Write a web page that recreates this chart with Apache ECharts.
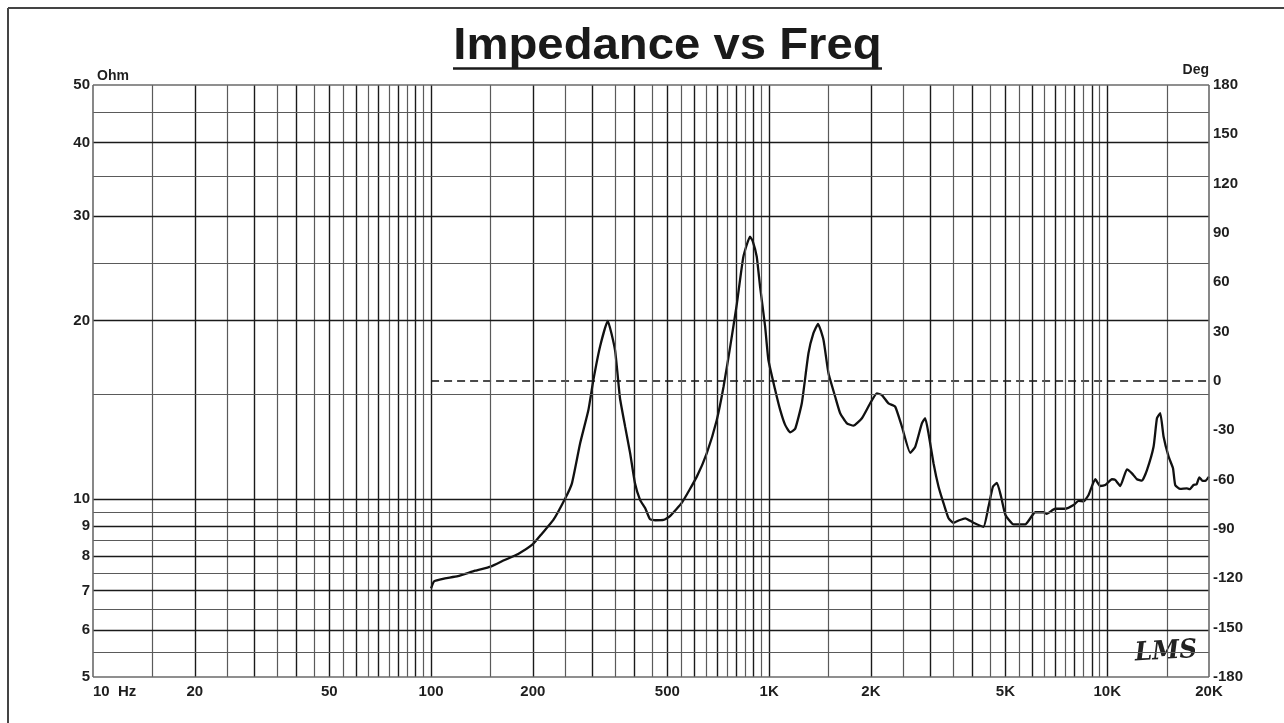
<!DOCTYPE html>
<html><head><meta charset="utf-8">
<script src="https://cdn.jsdelivr.net/npm/echarts@6/dist/echarts.min.js"></script>
<style>html,body{margin:0;padding:0;background:#fff}#c{width:1284px;height:723px}</style>
</head><body><div id="c"></div>
<script>
// ---- data ----
const freqHz = [100,102,106,110,120,135,150,165,181,200,213,230,249,261,276,292,302,316,333,350,362,375,388,401,415,430,444,460,487,509,552,611,654,700,733,767,803,839,878,895,919,940,973,995,1042,1078,1115,1154,1194,1249,1307,1352,1395,1448,1498,1568,1622,1698,1776,1881,1990,2083,2155,2254,2359,2470,2614,2704,2830,2894,2960,3063,3170,3279,3393,3510,3650,3801,4022,4305,4455,4591,4717,4850,5000,5283,5720,6124,6480,6620,7015,7510,7950,8224,8510,8806,9215,9535,9866,10325,10560,10926,11437,11834,12243,12668,13107,13710,14030,14350,14680,15190,15650,15890,16440,17210,17540,17990,18380,18720,19150,19550,20000];
const impedanceOhm = [7.06,7.25,7.30,7.34,7.40,7.56,7.68,7.88,8.07,8.38,8.74,9.21,10.0,10.62,12.41,14.13,15.87,18.07,19.97,17.84,14.8,13.24,11.94,10.62,9.96,9.64,9.24,9.2,9.21,9.35,9.85,10.9,11.94,13.59,15.46,18.07,21.39,25.64,27.72,27.2,25.64,22.82,19.53,17.16,15.27,14.13,13.33,12.95,13.13,14.5,17.61,19.04,19.75,18.55,16.29,14.87,13.95,13.41,13.29,13.68,14.5,15.07,14.97,14.5,14.31,13.24,11.96,12.24,13.41,13.68,12.90,11.48,10.48,9.83,9.27,9.11,9.2,9.27,9.11,8.97,9.70,10.48,10.64,10.1,9.39,9.05,9.05,9.49,9.49,9.43,9.62,9.62,9.76,9.92,9.90,10.15,10.79,10.51,10.55,10.79,10.76,10.51,11.21,11.04,10.79,10.73,11.18,12.24,13.68,13.95,12.73,11.78,11.26,10.55,10.39,10.41,10.38,10.55,10.58,10.87,10.72,10.73,10.9];
const phaseRefFreq = [100, 20000];
const phaseRefDeg = [0, 0];

const xTickValues = [10,20,50,100,200,500,1000,2000,5000,10000,20000];
const xTickLabels = ['10  Hz','20','50','100','200','500','1K','2K','5K','10K','20K'];
const yTickValues = [5,6,7,8,9,10,20,30,40,50];
const yTickLabels = ['5','6','7','8','9','10','20','30','40','50'];
const phaseMin = -180, phaseMax = 180, phaseStep = 30;

// ---- grid lines (log paper) ----
const MAJ = {color:'#1a1a1a', width:1.4, type:'solid'};
const MIN = {color:'#5a5a5a', width:1.2, type:'solid'};
const EDGE = {color:'#6a6a6a', width:1.6, type:'solid'};
const gridMarks = [];
[10,100,1000].forEach(d => {
  for (let k = 2; k <= 19; k++) {
    const v = d * k / 2;
    if (v === 10) continue;
    gridMarks.push({xAxis: v, lineStyle: (k % 2 === 0) ? MAJ : MIN});
  }
});
gridMarks.push({xAxis: 10000, lineStyle: MAJ});
gridMarks.push({xAxis: 15000, lineStyle: MIN});
for (let k = 11; k <= 19; k++) {
  gridMarks.push({yAxis: k / 2, lineStyle: (k % 2 === 0) ? MAJ : MIN});
}
for (let v = 10; v <= 45; v += 5) {
  gridMarks.push({yAxis: v, lineStyle: (v % 10 === 0) ? MAJ : MIN});
}
gridMarks.push({xAxis: 10, lineStyle: EDGE});
gridMarks.push({xAxis: 20000, lineStyle: EDGE});
gridMarks.push({yAxis: 5, lineStyle: EDGE});
gridMarks.push({yAxis: 50, lineStyle: EDGE});

const FONT = 'Liberation Sans, Arial, Helvetica, sans-serif';
const lbl = {fontFamily: FONT, fontWeight: 'bold', fontSize: 15, color: '#1e1e1e'};

const chart = echarts.init(document.getElementById('c'), null, {renderer: 'canvas'});
chart.setOption({
  animation: false,
  backgroundColor: '#ffffff',
  grid: {left: 93, right: 75, top: 85, bottom: 46, containLabel: false, outerBoundsMode: 'none'},
  xAxis: {
    type: 'log', logBase: 10, min: 10, max: 20000,
    axisLine: {show: false}, axisTick: {show: false}, splitLine: {show: false}, minorSplitLine: {show: false},
    axisLabel: Object.assign({}, lbl, {
      margin: 7, customValues: xTickValues, showMinLabel: true, showMaxLabel: true,
      alignMinLabel: 'left',
      formatter: v => { const i = xTickValues.findIndex(t => Math.abs(t - v) / t < 1e-6); return i >= 0 ? xTickLabels[i] : ''; }
    })
  },
  yAxis: [{
    type: 'log', logBase: 10, min: 5, max: 50, position: 'left',
    name: 'Ohm', nameLocation: 'end', nameGap: 2,
    nameTextStyle: Object.assign({}, lbl, {fontSize: 14, align: 'left', verticalAlign: 'bottom', padding: [0,0,0,4]}),
    axisLine: {show: false}, axisTick: {show: false}, splitLine: {show: false}, minorSplitLine: {show: false},
    axisLabel: Object.assign({}, lbl, {
      margin: 3, customValues: yTickValues, showMinLabel: true, showMaxLabel: true,
      formatter: v => { const i = yTickValues.findIndex(t => Math.abs(t - v) / t < 1e-6); return i >= 0 ? yTickLabels[i] : ''; }
    })
  }, {
    type: 'value', min: phaseMin, max: phaseMax, interval: phaseStep, position: 'right',
    name: 'Deg', nameLocation: 'end', nameGap: 2,
    nameTextStyle: Object.assign({}, lbl, {fontSize: 14, align: 'right', verticalAlign: 'bottom'}),
    axisLine: {show: false}, axisTick: {show: false}, splitLine: {show: false},
    axisLabel: Object.assign({}, lbl, {margin: 4, showMinLabel: true, showMaxLabel: true})
  }],
  series: [{
    name: 'grid', type: 'line', data: [], z: 1, silent: true,
    markLine: {silent: true, symbol: ['none','none'], label: {show: false}, animation: false,
      emphasis: {disabled: true}, data: gridMarks}
  }, {
    name: 'Phase 0', type: 'line', yAxisIndex: 1, z: 3, silent: true, symbol: 'none',
    data: phaseRefFreq.map((f, i) => [f, phaseRefDeg[i]]),
    lineStyle: {color: '#111', width: 1.6, type: [8, 5]}
  }, {
    name: 'Impedance', type: 'line', yAxisIndex: 0, z: 4, silent: true, symbol: 'none', smooth: 0.15,
    data: freqHz.map((f, i) => [f, impedanceOhm[i]]),
    lineStyle: {color: '#111', width: 2.3}
  }],
  graphic: [
    {type: 'line', shape: {x1: 8, y1: 8, x2: 1284, y2: 8}, style: {stroke: '#444', lineWidth: 2}},
    {type: 'line', shape: {x1: 8, y1: 8, x2: 8, y2: 723}, style: {stroke: '#444', lineWidth: 2}},
    {type: 'text', x: 667.5, y: 47, scaleX: 1.126, scaleY: 1.04,
      style: {text: 'Impedance vs Freq', x: 0, y: 0, align: 'center', verticalAlign: 'middle',
        font: 'bold 42px ' + FONT, fill: '#1a1a1a'}},
    {type: 'line', shape: {x1: 453, y1: 68.5, x2: 882, y2: 68.5}, style: {stroke: '#1a1a1a', lineWidth: 2.6}},
    {type: 'text', x: 1166, y: 652, rotation: 0.06, scaleX: 0.95,
      style: {text: 'LMS', x: 0, y: 0, align: 'center', verticalAlign: 'middle',
        font: 'italic bold 26px DejaVu Serif, serif', fill: '#222'}}
  ]
});
</script>
</body></html>
